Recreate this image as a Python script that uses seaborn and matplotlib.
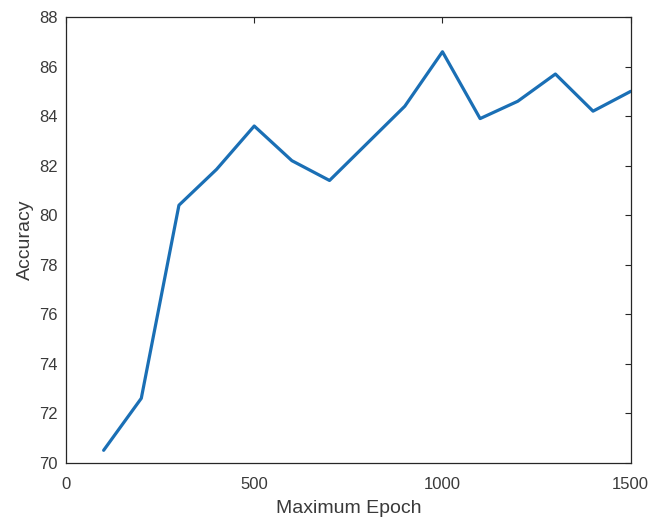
import matplotlib
matplotlib.use("Agg")
import matplotlib.pyplot as plt
import pandas as pd
import seaborn as sns

# Accuracy vs maximum epoch
EPOCHS = [100, 200, 300, 400, 500, 600, 700, 800, 900, 1000, 1100, 1200, 1300, 1400, 1500]
ACCURACY = [70.5, 72.6, 80.4, 81.85, 83.6, 82.2, 81.4, 82.9, 84.4, 86.6, 83.9, 84.6, 85.7, 84.2, 85.0]
X_TICKS = [0, 500, 1000, 1500]
Y_TICKS = [70, 72, 74, 76, 78, 80, 82, 84, 86, 88]

LINE_COLOR = "#1a6fb5"
AXIS_COLOR = "#262626"
TEXT_COLOR = "#3a3a3a"

sns.set_theme(style="white")
plt.rcParams["font.family"] = ["Liberation Sans", "DejaVu Sans"]

df = pd.DataFrame({"epoch": EPOCHS, "accuracy": ACCURACY})

fig = plt.figure(figsize=(6.58, 5.18), dpi=100)
ax = fig.add_axes([0.1003, 0.1068, 0.8582, 0.8602])

sns.lineplot(data=df, x="epoch", y="accuracy", color=LINE_COLOR, linewidth=2.3, ax=ax)

ax.set_xlim(0, 1500)
ax.set_ylim(70, 88)
ax.set_xticks(X_TICKS)
ax.set_yticks(Y_TICKS)
ax.set_xticklabels([str(t) for t in X_TICKS])
ax.set_yticklabels([str(t) for t in Y_TICKS])

ax.tick_params(direction="in", length=4, width=0.8, colors=AXIS_COLOR,
               labelcolor=TEXT_COLOR, labelsize=12, top=True, right=True,
               labeltop=False, labelright=False)
ax.tick_params(axis="x", pad=10)
ax.tick_params(axis="y", pad=6)
for side in ["left", "right", "top", "bottom"]:
	ax.spines[side].set_visible(True)
	ax.spines[side].set_color(AXIS_COLOR)
	ax.spines[side].set_linewidth(0.9)

ax.set_xlabel("Maximum Epoch", fontsize=14, color=TEXT_COLOR, labelpad=6)
ax.set_ylabel("Accuracy", fontsize=14, color=TEXT_COLOR, labelpad=4)

fig.savefig("out.png", dpi=100)
